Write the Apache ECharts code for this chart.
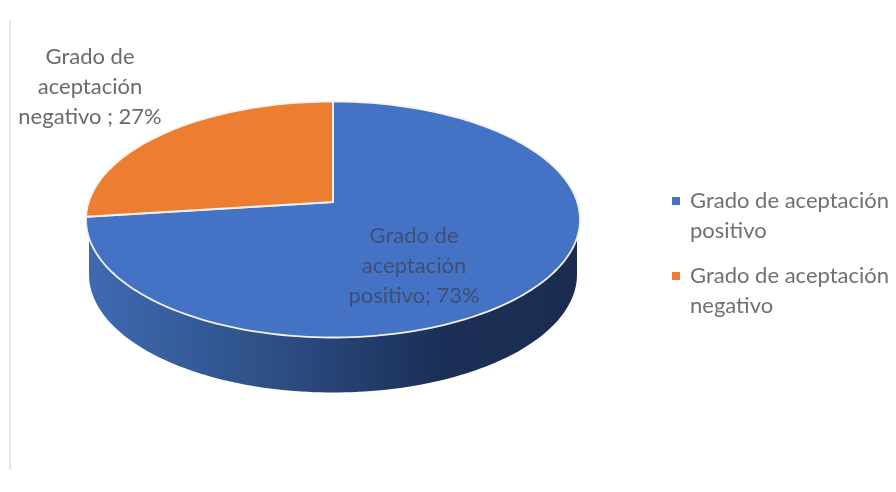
<!DOCTYPE html>
<html><head><meta charset="utf-8">
<style>html,body{margin:0;padding:0;background:#fff}#c{width:896px;height:492px}</style>
<script src="https://cdn.jsdelivr.net/npm/echarts@6/dist/echarts.min.js"></script>
</head><body><div id="c"></div>
<script>
const categories = ['Grado de aceptación positivo', 'Grado de aceptación negativo'];
const legendLabels = ['Grado de aceptación\npositivo', 'Grado de aceptación\nnegativo'];
const sliceLabels = ['Grado de\naceptación\npositivo; 73%', 'Grado de\naceptación\nnegativo ; 27%'];
const percentValues = [73, 27];
const sliceColors = ['#4472C4', '#ED7D31'];

const CX = 333, CY = 219.5, RX = 247, RY = 118, APEX_Y = 202, DEPTH = 55;
const total = percentValues.reduce((a, b) => a + b, 0);
const tilt = (APEX_Y - CY) / RY;

// Projects a point of the unit disc (perspective tilt moves the centre to the apex).
function project(ux, uy) {
  const den = 1 + tilt * uy;
  return [CX + RX * ux * Math.sqrt(1 - tilt * tilt) / den, CY + RY * (uy + tilt) / den];
}
function rimPoint(frac) {
  const a = frac * 2 * Math.PI;
  return project(Math.sin(a), -Math.cos(a));
}
function slicePoints(from, to) {
  const pts = [[CX, APEX_Y]];
  const n = Math.max(2, Math.ceil((to - from) * 240));
  for (let i = 0; i <= n; i++) pts.push(rimPoint(from + (to - from) * i / n));
  return pts;
}
function wallPoints() {
  const pts = [];
  const rx = RX - 3;
  for (let i = 0; i <= 120; i++) {
    const a = Math.PI * i / 120;
    pts.push([CX + rx * Math.cos(a), CY + DEPTH + RY * Math.sin(a)]);
  }
  pts.push([CX - rx, CY + 10], [CX + rx, CY + 10]);
  return pts;
}
const labelAnchors = [[414, 266], [90, 87]];
const wallFill = new echarts.graphic.LinearGradient(0, 0, 1, 0, [
  { offset: 0, color: '#3E6AB2' },
  { offset: 0.35, color: '#2F5189' },
  { offset: 0.72, color: '#1B2F57' },
  { offset: 1, color: '#1B2C50' }
]);

function sliceSeries(idx) {
  // Clockwise from 12 o'clock: the first value, then the rest.
  const from = percentValues.slice(0, idx).reduce((a, b) => a + b, 0) / total;
  return {
    type: 'custom',
    name: categories[idx],
    coordinateSystem: 'none',
    silent: true,
    z: idx === 0 ? 2 : 3,
    itemStyle: { color: sliceColors[idx] },
    data: [[percentValues[idx]]],
    renderItem: function (params, api) {
      const to = from + api.value(0) / total;
      const children = [];
      if (idx === 0) {
        children.push({ type: 'polygon', shape: { points: wallPoints() }, style: { fill: wallFill } });
      }
      children.push({
        type: 'polygon',
        shape: { points: slicePoints(from, to) },
        style: { fill: sliceColors[idx], stroke: '#F4F1EC', lineWidth: 1.8, lineJoin: 'round' }
      });
      children.push({
        type: 'text',
        z2: 10,
        style: {
          x: labelAnchors[idx][0], y: labelAnchors[idx][1],
          text: sliceLabels[idx], align: 'center', verticalAlign: 'middle',
          font: '22px Lato', lineHeight: 30,
          fill: idx === 0 ? '#3E4F78' : '#6A6A6A'
        }
      });
      return { type: 'group', children };
    }
  };
}

const chart = echarts.init(document.getElementById('c'), null, { renderer: 'canvas' });
chart.setOption({
  animation: false,
  backgroundColor: '#ffffff',
  graphic: [{
    type: 'line', silent: true,
    shape: { x1: 10, y1: 20, x2: 10, y2: 470 },
    style: { stroke: '#E6E6E6', lineWidth: 2 }
  }],
  legend: {
    orient: 'vertical',
    left: 672, top: 186,
    padding: 0,
    itemWidth: 8, itemHeight: 60, itemGap: 15,
    icon: 'path://M0 11h8v8h-8z M0 0h0.01v0.01h-0.01z M8 60h0.01v0.01h-0.01z',
    data: categories,
    selectedMode: false,
    formatter: name => legendLabels[categories.indexOf(name)],
    textStyle: { fontFamily: 'Lato', fontSize: 22, lineHeight: 30, color: '#707070', padding: [0, 0, 0, 5] }
  },
  series: [sliceSeries(0), sliceSeries(1)]
});
</script></body></html>
